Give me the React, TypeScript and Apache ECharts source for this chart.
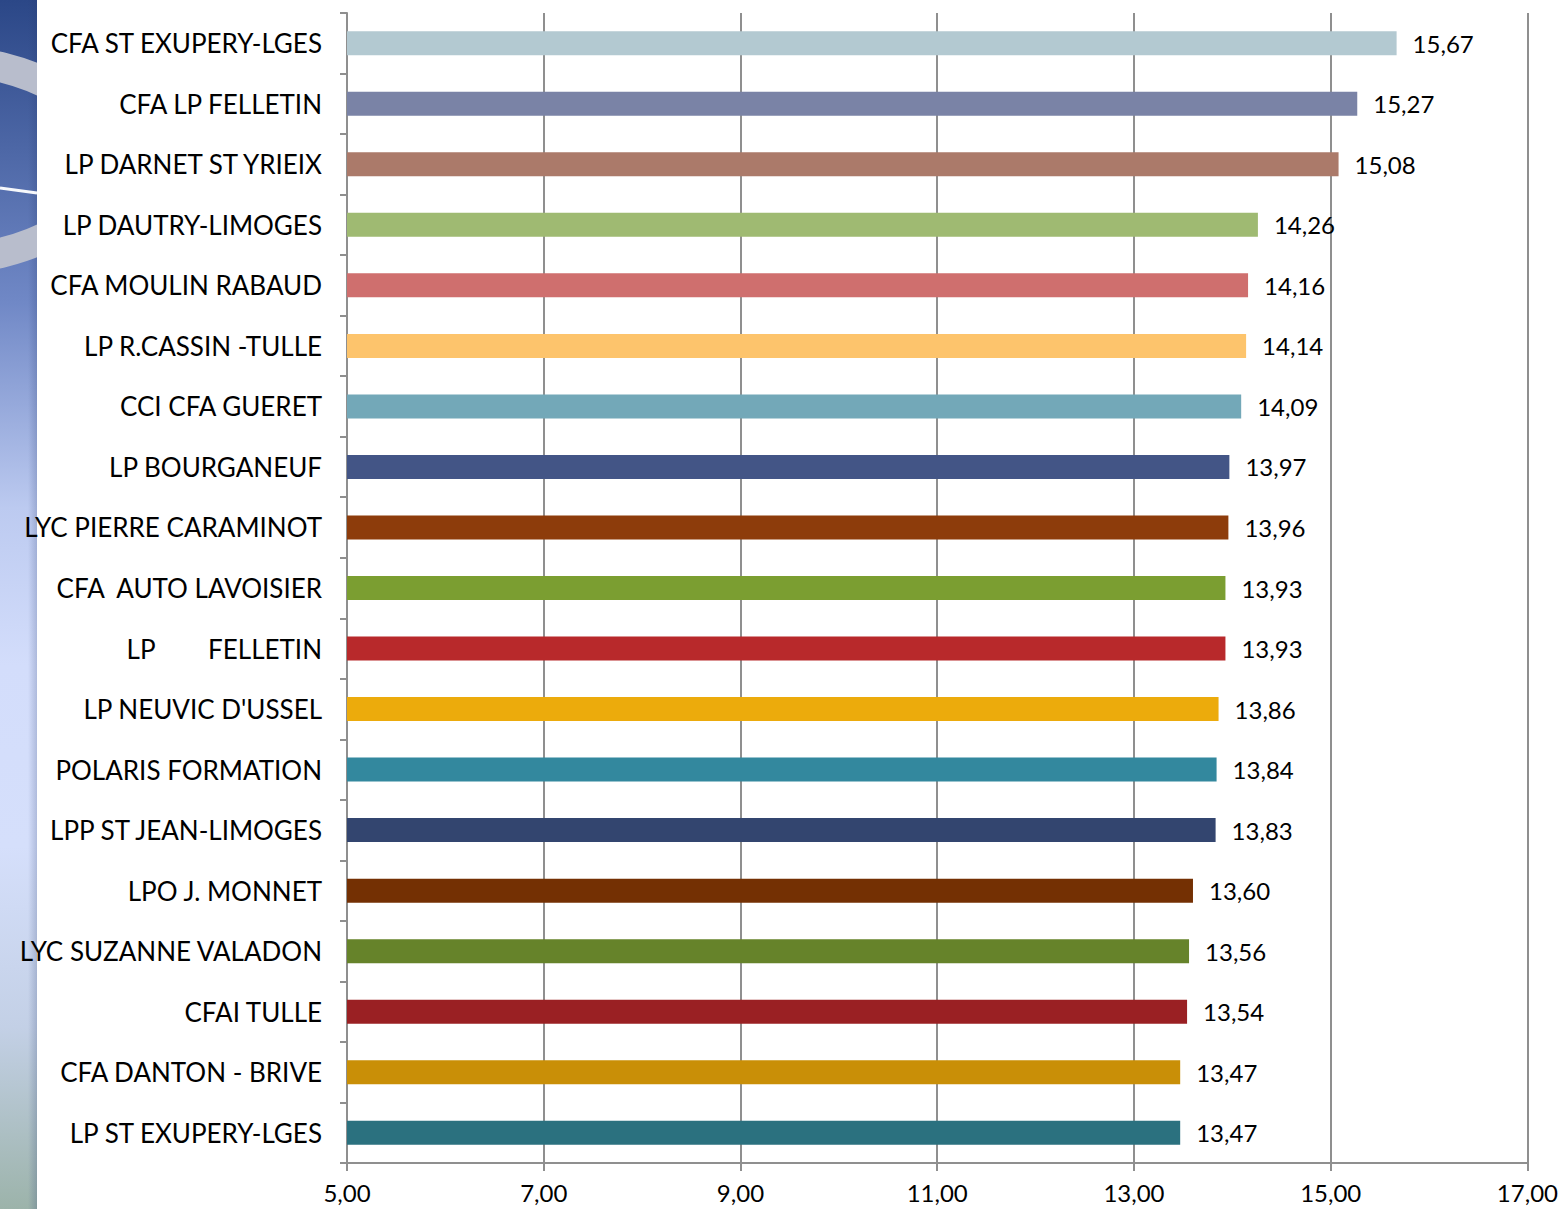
import React, { useEffect, useRef } from "react";
import * as echarts from "echarts";

const categories = [
  "CFA ST EXUPERY-LGES",
  "CFA LP FELLETIN",
  "LP DARNET ST YRIEIX",
  "LP DAUTRY-LIMOGES",
  "CFA MOULIN RABAUD",
  "LP R.CASSIN -TULLE",
  "CCI CFA GUERET",
  "LP BOURGANEUF",
  "LYC PIERRE CARAMINOT",
  "CFA\u00a0\u00a0AUTO LAVOISIER",
  "LP\u00a0\u00a0\u00a0\u00a0\u00a0\u00a0\u00a0\u00a0FELLETIN",
  "LP NEUVIC D'USSEL",
  "POLARIS FORMATION",
  "LPP ST JEAN-LIMOGES",
  "LPO J. MONNET",
  "LYC SUZANNE VALADON",
  "CFAI TULLE",
  "CFA DANTON - BRIVE",
  "LP ST EXUPERY-LGES",
];

const values = [
  15.67, 15.27, 15.08, 14.26, 14.16, 14.14, 14.09, 13.97, 13.96, 13.93, 13.93,
  13.86, 13.84, 13.83, 13.6, 13.56, 13.54, 13.47, 13.47,
];

const barColors = [
  "#b3c9d1", "#7a83a6", "#ab7a6a", "#9fba72", "#cf6f6e", "#fdc46c", "#73a8b8",
  "#435586", "#8d3c0b", "#7b9e31", "#b8292b", "#ecab0c", "#33889e", "#33456f",
  "#743003", "#66832a", "#9a2023", "#c98f07", "#2b717f",
];

const xMin = 5;
const xMax = 17;
const xInterval = 2;

const FONT = "Lato, 'Open Sans', sans-serif";
const fmt = (v: number) => v.toFixed(2).replace(".", ",");

export default function App() {
  const ref = useRef<HTMLDivElement>(null);
  useEffect(() => {
    if (!ref.current) return;
    const chart = echarts.init(ref.current, undefined, { renderer: "svg" });
    chart.setOption({
      animation: false,
      backgroundColor: "#ffffff",
      graphic: [
        {
          type: "rect",
          z: -20,
          shape: { x: 0, y: 0, width: 37, height: 1209 },
          style: {
            fill: new echarts.graphic.LinearGradient(0, 0, 0, 1, [
              { offset: 0, color: "#2b4787" },
              { offset: 0.25, color: "#7088c6" },
              { offset: 0.42, color: "#bccaf0" },
              { offset: 0.55, color: "#d3ddfb" },
              { offset: 0.7, color: "#d5dffb" },
              { offset: 0.85, color: "#c3d0e6" },
              { offset: 1, color: "#9cb3aa" },
            ]),
          },
        },
        {
          type: "rect",
          z: -19,
          shape: { x: 28, y: 0, width: 9, height: 1209 },
          style: {
            fill: new echarts.graphic.LinearGradient(0, 0, 1, 0, [
              { offset: 0, color: "rgba(40,60,110,0)" },
              { offset: 1, color: "rgba(40,60,110,0.22)" },
            ]),
          },
        },
        {
          type: "ellipse",
          z: -18,
          shape: { cx: -62, cy: 160, rx: 169, ry: 100 },
          style: { fill: "none", stroke: "#b8bdcc", lineWidth: 30 },
        },
        {
          type: "line",
          z: -17,
          shape: { x1: 0, y1: 188, x2: 37, y2: 193 },
          style: { stroke: "rgba(255,255,255,0.95)", lineWidth: 3 },
        },
        {
          type: "rect",
          z: -16,
          shape: { x: 37, y: 0, width: 1524, height: 1209 },
          style: { fill: "#ffffff" },
        },
      ],
      grid: { left: 347, right: 33, top: 13, bottom: 46, containLabel: false },
      xAxis: {
        type: "value",
        min: xMin,
        max: xMax,
        interval: xInterval,
        axisLine: { show: true, lineStyle: { color: "#8f8f8f", width: 2 } },
        axisTick: { show: true, length: 8, lineStyle: { color: "#8f8f8f", width: 2 } },
        splitLine: { show: true, lineStyle: { color: "#8f8f8f", width: 2 } },
        axisLabel: {
          formatter: (v: number) => fmt(v),
          color: "#000",
          fontSize: 24,
          fontFamily: FONT,
          margin: 17,
        },
      },
      yAxis: {
        type: "category",
        data: categories,
        inverse: true,
        axisLine: { show: true, lineStyle: { color: "#8f8f8f", width: 2 } },
        axisTick: { show: true, length: 7, lineStyle: { color: "#8f8f8f", width: 2 } },
        axisLabel: {
          color: "#000",
          fontSize: 26,
          fontFamily: FONT,
          margin: 25,
          padding: [0, 0, 3, 0],
        },
      },
      series: [
        {
          type: "bar",
          barWidth: 24,
          data: values.map((v, i) => ({ value: v, itemStyle: { color: barColors[i] } })),
          label: {
            show: true,
            position: "right",
            distance: 16,
            color: "#000",
            fontSize: 24,
            fontFamily: FONT,
            formatter: (p: any) => fmt(p.value),
          },
        },
      ],
    });
    return () => chart.dispose();
  }, []);
  return (
    <div
      ref={ref}
      style={{ position: "fixed", left: 0, top: 0, width: 1561, height: 1209 }}
    />
  );
}
